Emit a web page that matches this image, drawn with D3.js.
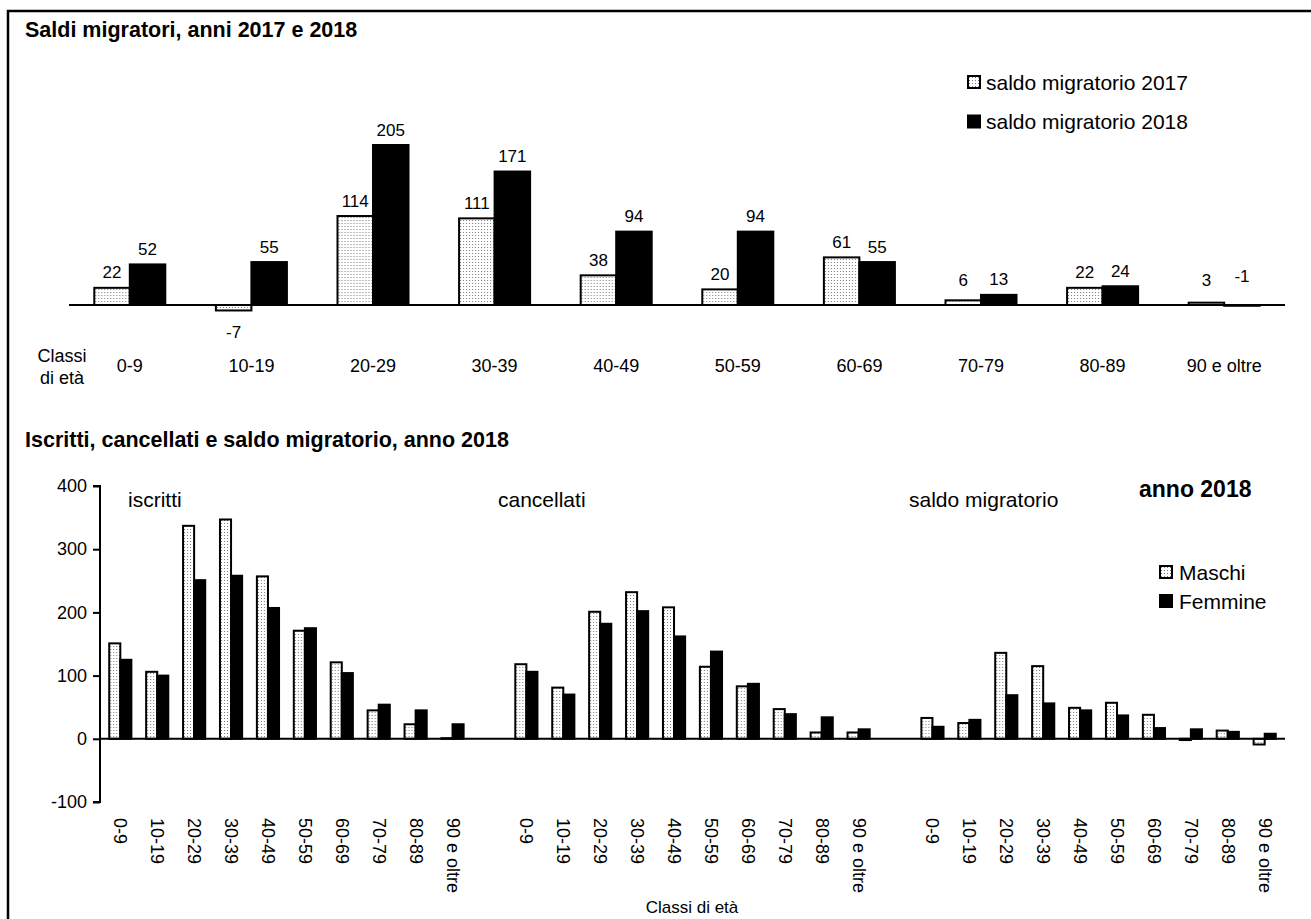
<!DOCTYPE html>
<html><head><meta charset="utf-8">
<script src="https://cdn.jsdelivr.net/npm/d3@7"></script>
<style>
body{margin:0;background:#fff;}
svg text{font-family:"Liberation Sans",Arial,Helvetica,sans-serif;fill:#000;}
</style>
</head><body>
<svg id="chart" width="1311" height="919"></svg>
<script>
// ---------- DATA ----------
const ageClasses = ["0-9","10-19","20-29","30-39","40-49","50-59","60-69","70-79","80-89","90 e oltre"];
const saldo2017 = [22,-7,114,111,38,20,61,6,22,3];
const saldo2018 = [52,55,205,171,94,94,55,13,24,-1];
const topSeries = ["saldo migratorio 2017","saldo migratorio 2018"];

const iscrittiMaschi   = [151,106,337,347,257,171,121,45,23,1];
const iscrittiFemmine  = [125,100,251,258,207,175,104,54,45,23];
const cancellatiMaschi = [118,81,201,232,208,114,83,47,10,10];
const cancellatiFemmine= [106,70,182,202,162,138,87,39,34,15];
const saldoMaschi      = [33,25,136,115,49,57,38,-2,13,-9];
const saldoFemmine     = [19,30,69,56,45,37,17,15,11,8];
const bottomGroups = ["iscritti","cancellati","saldo migratorio"];
const sexes = ["Maschi","Femmine"];
const bottomTicks = [-100,0,100,200,300,400];

const title1 = "Saldi migratori, anni 2017 e 2018";
const title2 = "Iscritti, cancellati e saldo migratorio, anno 2018";

// ---------- SETUP ----------
const svg = d3.select("#chart");
const defs = svg.append("defs");
const pat = defs.append("pattern").attr("id","stipple").attr("patternUnits","userSpaceOnUse")
  .attr("width",3).attr("height",3);
pat.append("rect").attr("width",3).attr("height",3).attr("fill","#fff");
pat.append("rect").attr("x",1).attr("y",1).attr("width",1).attr("height",1).attr("fill","#7a7a7a");

// frame
svg.append("rect").attr("x",8).attr("y",11).attr("width",1400).attr("height",1000)
  .attr("fill","none").attr("stroke","#000").attr("stroke-width",2.5);

// titles
svg.append("text").attr("x",25).attr("y",37).attr("font-size",21.5).attr("font-weight","bold").text(title1);
svg.append("text").attr("x",25).attr("y",447).attr("font-size",21.5).attr("font-weight","bold").text(title2);

// ---------- TOP CHART ----------
const topData = ageClasses.map((c,i)=>({cat:c, vals:[{s:0,v:saldo2017[i]},{s:1,v:saldo2018[i]}]}));
const x0 = d3.scaleBand().domain(ageClasses).range([69,1285]).paddingInner(0.416).paddingOuter(0.208);
const x1 = d3.scaleBand().domain([0,1]).range([0,x0.bandwidth()]);
const yTop = d3.scaleLinear().domain([0,205]).range([305,145]);

const tg = svg.append("g");
const groups = tg.selectAll("g.grp").data(topData).join("g")
  .attr("transform",d=>`translate(${x0(d.cat)},0)`);
groups.selectAll("rect").data(d=>d.vals).join("rect")
  .attr("x",d=>x1(d.s)).attr("width",x1.bandwidth())
  .attr("y",d=>yTop(Math.max(0,d.v))).attr("height",d=>Math.abs(yTop(d.v)-yTop(0)))
  .attr("fill",d=>d.s===0?"url(#stipple)":"#000")
  .attr("stroke","#000").attr("stroke-width",2);
groups.selectAll("text").data(d=>d.vals).join("text")
  .attr("x",d=>x1(d.s)+x1.bandwidth()/2)
  .attr("y",d=> d.v < -3 ? yTop(d.v)+22 : Math.min(yTop(Math.max(d.v,0))-15, yTop(0)-25) - (d.v<0?4:0))
  .attr("text-anchor","middle").attr("dominant-baseline","central").attr("font-size",17)
  .text(d=>d.v);
// baseline
tg.append("line").attr("x1",x0.range()[0]).attr("x2",x0.range()[1])
  .attr("y1",yTop(0)).attr("y2",yTop(0)).attr("stroke","#000").attr("stroke-width",2);
// category labels
tg.selectAll("text.cat").data(ageClasses).join("text").attr("class","cat")
  .attr("x",d=>x0(d)+x0.bandwidth()/2).attr("y",366)
  .attr("text-anchor","middle").attr("dominant-baseline","central").attr("font-size",18).text(d=>d);
tg.append("text").attr("x",62).attr("y",356).attr("text-anchor","middle").attr("dominant-baseline","central")
  .attr("font-size",18).text("Classi");
tg.append("text").attr("x",62).attr("y",378).attr("text-anchor","middle").attr("dominant-baseline","central")
  .attr("font-size",18).text("di età");
// legend top
const lg = tg.selectAll("g.leg").data(topSeries).join("g").attr("class","leg")
  .attr("transform",(d,i)=>`translate(968,${76+i*39.5})`);
lg.append("rect").attr("width",12).attr("height",12)
  .attr("fill",(d,i)=>i===0?"url(#stipple)":"#000").attr("stroke","#000").attr("stroke-width",2);
lg.append("text").attr("x",18).attr("y",6).attr("dominant-baseline","central").attr("font-size",21).text(d=>d);

// ---------- BOTTOM CHART ----------
const bottomValues = [[iscrittiMaschi,iscrittiFemmine],[cancellatiMaschi,cancellatiFemmine],[saldoMaschi,saldoFemmine]];
const slots = [];
bottomGroups.forEach((g,gi)=>{
  ageClasses.forEach((c,ci)=>slots.push({key:gi+"|"+c, cat:c, g:gi,
     vals:[{s:0,v:bottomValues[gi][0][ci]},{s:1,v:bottomValues[gi][1][ci]}]}));
  if(gi<bottomGroups.length-1) slots.push({key:"gap"+gi, gap:true});
});
const xb = d3.scaleBand().domain(slots.map(d=>d.key)).range([100,1285]).paddingInner(0.4).paddingOuter(0.25);
const xs = d3.scaleBand().domain([0,1]).range([0,xb.bandwidth()]);
const yB = d3.scaleLinear().domain([-100,400]).range([802,486]);

const bg = svg.append("g");
const bars = bg.selectAll("g.slot").data(slots.filter(d=>!d.gap)).join("g").attr("class","slot")
  .attr("transform",d=>`translate(${xb(d.key)},0)`);
bars.selectAll("rect").data(d=>d.vals).join("rect")
  .attr("x",d=>xs(d.s)).attr("width",xs.bandwidth())
  .attr("y",d=>yB(Math.max(0,d.v))).attr("height",d=>Math.abs(yB(d.v)-yB(0)))
  .attr("fill",d=>d.s===0?"url(#stipple)":"#000")
  .attr("stroke","#000").attr("stroke-width",2);
// zero line
bg.append("line").attr("x1",100).attr("x2",xb.range()[1]).attr("y1",yB(0)).attr("y2",yB(0))
  .attr("stroke","#000").attr("stroke-width",2);
// y axis
const yAxis = d3.axisLeft(yB).tickValues(bottomTicks).tickSize(7).tickPadding(6).tickFormat(d=>String(d));
const ya = bg.append("g").attr("transform","translate(100,0)").call(yAxis);
ya.select(".domain").attr("stroke","#000").attr("stroke-width",2).attr("d",`M-7,${yB(400)}H0V${yB(-100)}H-7`);
ya.selectAll(".tick line").attr("stroke","#000").attr("stroke-width",2);
ya.selectAll(".tick text").attr("font-size",18).attr("font-family","Liberation Sans, Arial, sans-serif").attr("fill","#000");
// rotated category labels
bg.selectAll("text.rc").data(slots.filter(d=>!d.gap)).join("text").attr("class","rc")
  .attr("transform",d=>`translate(${xb(d.key)+xb.bandwidth()/2},818) rotate(90)`)
  .attr("text-anchor","start").attr("dominant-baseline","central").attr("font-size",18).text(d=>d.cat);
bg.append("text").attr("x",692).attr("y",907).attr("text-anchor","middle").attr("dominant-baseline","central")
  .attr("font-size",17).text("Classi di età");
// group labels
const groupLabelX = [128,498,909];
bg.selectAll("text.gl").data(bottomGroups).join("text").attr("class","gl")
  .attr("x",(d,i)=>groupLabelX[i]).attr("y",507).attr("font-size",21).text(d=>d);
bg.append("text").attr("x",1139).attr("y",497).attr("font-size",23).attr("font-weight","bold").text("anno 2018");
// legend bottom
const lb = bg.selectAll("g.lb").data(sexes).join("g").attr("class","lb")
  .attr("transform",(d,i)=>`translate(1160,${566+i*29})`);
lb.append("rect").attr("width",12).attr("height",12)
  .attr("fill",(d,i)=>i===0?"url(#stipple)":"#000").attr("stroke","#000").attr("stroke-width",2);
lb.append("text").attr("x",19).attr("y",6).attr("dominant-baseline","central").attr("font-size",21).text(d=>d);
</script>
</body></html>
